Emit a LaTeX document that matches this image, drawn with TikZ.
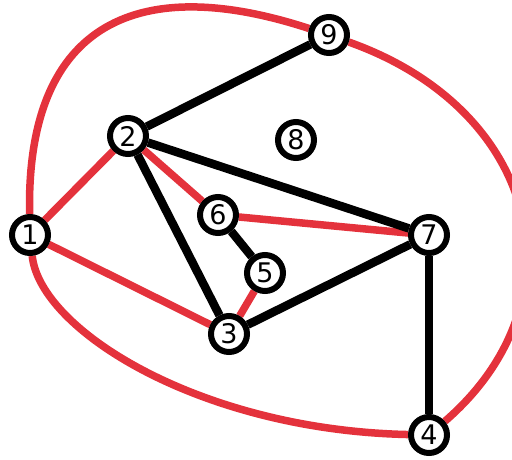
\documentclass[tikz,border=0pt]{standalone}
\usepackage{fontspec}
\setmainfont{DejaVu Sans}
\usetikzlibrary{backgrounds}
\definecolor{myred}{RGB}{228,50,60}
\begin{document}
\begin{tikzpicture}[x=1pt,y=-1pt,
  vtx/.style={circle,draw=black,line width=6pt,fill=white,minimum size=36pt,inner sep=0pt,font=\fontsize{27}{27}\selectfont},
  redge/.style={draw=myred,line width=7.5pt},
  bedge/.style={draw=black,line width=8.5pt}]
\useasboundingbox (0,0) rectangle (512,459);
\node[vtx] (n1) at (30,235) {1};
\node[vtx] (n2) at (128,136) {2};
\node[vtx] (n3) at (229,334) {3};
\node[vtx] (n4) at (429,435) {4};
\node[vtx] (n5) at (265,273) {5};
\node[vtx] (n6) at (218,215) {6};
\node[vtx] (n7) at (429,235) {7};
\node[vtx] (n8) at (296,140) {8};
\node[vtx] (n9) at (329,35) {9};
\begin{scope}[on background layer]
\draw[redge] (n1) -- (n2);
\draw[redge] (n1) -- (n3);
\draw[redge] (n2) -- (n6);
\draw[redge] (n6) -- (n7);
\draw[redge] (n3) -- (n5);
\draw[redge] (n1) .. controls (26,30) and (130,-30) .. (n9);
\draw[redge] (n1) .. controls (40,330) and (200,430) .. (n4);
\draw[redge] (n9) .. controls (540,110) and (585,300) .. (n4);
\draw[bedge] (n2) -- (n9);
\draw[bedge] (n2) -- (n7);
\draw[bedge] (n2) -- (n3);
\draw[bedge] (n6) -- (n5);
\draw[bedge] (n3) -- (n7);
\draw[bedge] (n7) -- (n4);
\end{scope}
\end{tikzpicture}
\end{document}
